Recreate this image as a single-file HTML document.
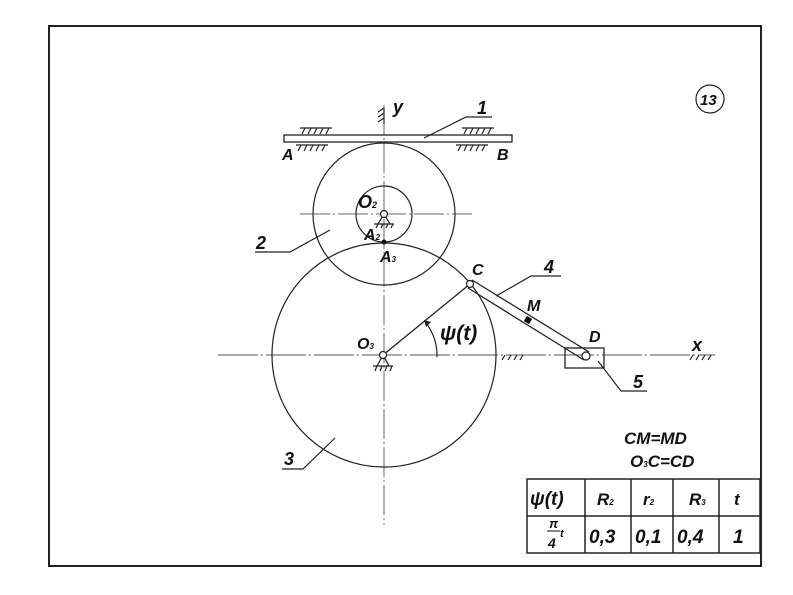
<!DOCTYPE html>
<html><head><meta charset="utf-8"><style>
html,body{margin:0;padding:0;background:#fff;width:793px;height:595px;overflow:hidden}
svg{display:block}
text{font-family:"Liberation Sans",sans-serif;font-style:italic;font-weight:bold;fill:#111}
</style></head><body>
<svg width="793" height="595" viewBox="0 0 793 595" xmlns="http://www.w3.org/2000/svg">
<g fill="none" stroke="#222">
<rect x="49" y="26" width="712" height="540" stroke-width="2"/>
<line x1="384" y1="105" x2="384" y2="525" stroke="#666" stroke-width="1" stroke-dasharray="30,3,2,3"/>
<line x1="218" y1="355" x2="715" y2="355" stroke="#555" stroke-width="1" stroke-dasharray="40,3,2,3"/>
<line x1="300" y1="214" x2="472" y2="214" stroke="#666" stroke-width="1" stroke-dasharray="30,3,2,3"/>
<rect x="284" y="135" width="228" height="7" stroke-width="1.3"/>
<circle cx="384" cy="214" r="71" stroke-width="1.2"/>
<circle cx="384" cy="214" r="28" stroke-width="1.2"/>
<circle cx="384" cy="355" r="112" stroke-width="1.2"/>
<path d="M300 128h32M302 134l3-6M308 134l3-6M314 134l3-6M320 134l3-6M326 134l3-6" stroke-width="1.2"/>
<path d="M462 128h32M464 134l3-6M470 134l3-6M476 134l3-6M482 134l3-6M488 134l3-6" stroke-width="1.2"/>
<path d="M296 145h32M298 151l3-6M304 151l3-6M310 151l3-6M316 151l3-6M322 151l3-6" stroke-width="1.2"/>
<path d="M456 145h32M458 151l3-6M464 151l3-6M470 151l3-6M476 151l3-6M482 151l3-6" stroke-width="1.2"/>
<path d="M384 108v16M378 112l6-4M378 117l6-4M378 122l6-4" stroke-width="1.2"/>
<path d="M505 355l-3 5M511 355l-3 5M517 355l-3 5M523 355l-3 5" stroke-width="1.2"/>
<path d="M693 355l-3 5M699 355l-3 5M705 355l-3 5M711 355l-3 5" stroke-width="1.2"/>
<path d="M384 214l-6 10h12z M374 224h20 M376 228l2-4M381 228l2-4M386 228l2-4M391 228l2-4" stroke-width="1.2"/>
<circle cx="384" cy="214" r="3.5" fill="#fff" stroke-width="1.2"/>
<path d="M383 355l-6 11h12z M373 366h20 M375 371l2-5M380 371l2-5M385 371l2-5M390 371l2-5" stroke-width="1.2"/>
<line x1="383" y1="355" x2="470" y2="284" stroke-width="1.3"/>
<path d="M472 280L589 352M468 288L584 360" stroke-width="1.3"/>
<rect x="565" y="348" width="39" height="20" stroke-width="1.3"/>
<circle cx="586" cy="356" r="4" fill="#fff" stroke-width="1.2"/>
<circle cx="470" cy="284" r="3.5" fill="#fff" stroke-width="1.2"/>
<circle cx="383" cy="355" r="3.5" fill="#fff" stroke-width="1.2"/>
<path d="M437 357 A54 54 0 0 0 426 323" stroke-width="1.2"/>
<path d="M424 320l7 2-5 5z" fill="#222" stroke="none"/>
<path d="M424 138L466 117H492" stroke-width="1.2"/>
<path d="M330 230L290 252H255" stroke-width="1.2"/>
<path d="M335 438L303 469H282" stroke-width="1.2"/>
<path d="M496 296L531 276H561" stroke-width="1.2"/>
<path d="M598 361L621 391H647" stroke-width="1.2"/>
<circle cx="710" cy="99" r="14" stroke-width="1.2"/>
<rect x="527" y="479" width="233" height="74" stroke-width="1.5"/>
<path d="M527 516H760M585 479V553M631 479V553M673 479V553M719 479V553" stroke-width="1.5"/>
</g>
<circle cx="384" cy="242" r="2.5" fill="#111"/>
<rect x="525" y="317" width="6" height="6" fill="#111" transform="rotate(31 528 320)"/>
<text x="393" y="113" font-size="18">y</text>
<text x="477" y="114" font-size="18">1</text>
<text x="282" y="160" font-size="16">A</text>
<text x="497" y="160" font-size="16">B</text>
<text x="358" y="208" font-size="18">O<tspan font-size="9">2</tspan></text>
<text x="364" y="240" font-size="16">A<tspan font-size="8">2</tspan></text>
<text x="380" y="262" font-size="16">A<tspan font-size="8">3</tspan></text>
<text x="256" y="249" font-size="18">2</text>
<text x="284" y="465" font-size="18">3</text>
<text x="544" y="273" font-size="18">4</text>
<text x="633" y="388" font-size="18">5</text>
<text x="472" y="275" font-size="16">C</text>
<text x="527" y="311" font-size="16">M</text>
<text x="589" y="342" font-size="16">D</text>
<text x="357" y="349" font-size="16">O<tspan font-size="8">3</tspan></text>
<text x="440" y="340" font-size="21" font-style="normal" font-weight="normal">ψ<tspan font-style="italic" font-weight="bold">(t)</tspan></text>
<text x="692" y="351" font-size="18">x</text>
<text x="700" y="105" font-size="15">13</text>
<text x="624" y="444" font-size="17" font-weight="normal">CM=MD</text>
<text x="630" y="467" font-size="17" font-weight="normal">O<tspan font-size="8">3</tspan>C=CD</text>
<text x="530" y="505" font-size="19" font-style="normal">ψ<tspan font-style="italic" font-weight="bold">(t)</tspan></text>
<text x="597" y="505" font-size="17">R<tspan font-size="8">2</tspan></text>
<text x="643" y="505" font-size="17">r<tspan font-size="8">2</tspan></text>
<text x="689" y="505" font-size="17">R<tspan font-size="8">3</tspan></text>
<text x="734" y="505" font-size="17">t</text>
<text x="549" y="528" font-size="13" font-style="normal">π</text>
<line x1="547" y1="531" x2="560" y2="531" stroke="#111" stroke-width="1"/>
<text x="548" y="548" font-size="14">4</text>
<text x="560" y="537" font-size="11">t</text>
<text x="589" y="543" font-size="19" font-weight="normal">0,3</text>
<text x="635" y="543" font-size="19" font-weight="normal">0,1</text>
<text x="677" y="543" font-size="19" font-weight="normal">0,4</text>
<text x="733" y="543" font-size="19" font-weight="normal">1</text>
</svg>
</body></html>
